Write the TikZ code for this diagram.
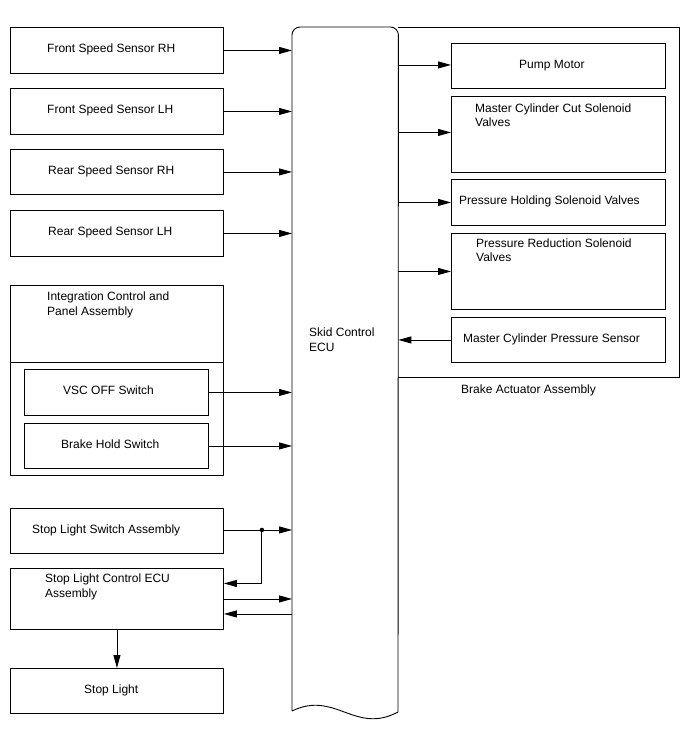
\documentclass[tikz,border=0pt]{standalone}
\usepackage{fontspec}
\setmainfont{Liberation Sans}
\usetikzlibrary{arrows.meta,calc}
\tikzset{
 wire/.style={line width=.9pt},
 arrowwire/.style={wire,-{Triangle[length=13pt,width=7pt]}},
 unit/.style={draw,line width=.9pt,anchor=north west,inner sep=0,minimum width=213pt,minimum height=46pt},
 outunit/.style={unit,minimum width=214pt},
 caption/.style={inner sep=0,align=left,font=\fontsize{12}{14.5}\selectfont},
 tag/.style={caption,anchor=west,text height=8.6pt,text depth=0pt,yshift=2pt},
 blocktag/.style={caption,anchor=north west},
 joint/.style={circle,fill,inner sep=0,minimum size=4.5pt}
}
\begin{document}
\begin{tikzpicture}[x=1pt,y=-1pt]
\path[use as bounding box] (0,0) rectangle (688,755);
\node[inner sep=0,minimum width=106pt,minimum height=685pt,anchor=north west,
 label={[blocktag,xshift=17pt,yshift=-300.6pt]north west:{Skid Control\\ECU}}] (ecu) at (292,27) {};
\draw[wire,rounded corners=8pt] (292,711) -- (ecu.north west) -- (ecu.north east) [sharp corners] -- (398,712)
 .. controls (355,735) and (335,690) .. (292,711);
\node[inner sep=0,minimum width=281pt,minimum height=350pt,anchor=north west,
 label={[tag,xshift=63pt,yshift=-14pt]south west:Brake Actuator Assembly}] (bact) at (398,27) {};
\draw[wire] (bact.north west) -- (bact.north east) -- (bact.south east) -- (bact.south west);
\node[unit,label={[tag,xshift=37pt]west:Front Speed Sensor RH}] (fsrh) at (10,27) {};
\node[unit,label={[tag,xshift=37pt]west:Front Speed Sensor LH}] (fslh) at (10,88) {};
\node[unit,minimum height=45pt,label={[tag,xshift=38pt]west:Rear Speed Sensor RH}] (rsrh) at (10,149) {};
\node[unit,label={[tag,xshift=38pt]west:Rear Speed Sensor LH}] (rslh) at (10,210) {};
\node[unit,minimum height=190pt,label={[blocktag,xshift=37pt,yshift=-7pt]north west:{Integration Control and\\Panel Assembly}}] (icpa) at (10,285) {};
\draw[wire] ($(icpa.north west)+(0,77)$) -- ($(icpa.north east)+(0,77)$);
\node[unit,minimum width=184pt,label={[tag,xshift=39pt]west:VSC OFF Switch}] (vsc) at (24,369) {};
\node[unit,minimum width=184pt,minimum height=45pt,label={[tag,xshift=37pt]west:Brake Hold Switch}] (bhs) at (24,423) {};
\node[unit,minimum height=45pt,label={[tag,xshift=22pt]west:Stop Light Switch Assembly}] (slsw) at (10,508) {};
\node[unit,minimum height=61pt,label={[blocktag,xshift=35pt,yshift=-5.6pt]north west:{Stop Light Control ECU\\Assembly}}] (slecu) at (10,568) {};
\node[unit,minimum height=45pt,label={[tag,xshift=74pt]west:Stop Light}] (stop) at (10,668) {};
\node[outunit,minimum height=45pt,label={[tag,xshift=68pt]west:Pump Motor}] (pump) at (451,43) {};
\node[outunit,minimum height=76pt,label={[blocktag,xshift=24pt,yshift=-7.6pt]north west:{Master Cylinder Cut Solenoid\\Valves}}] (mccut) at (451,96) {};
\node[outunit,label={[tag,xshift=8pt]west:Pressure Holding Solenoid Valves}] (phold) at (451,179) {};
\node[outunit,minimum height=76pt,label={[blocktag,xshift=25pt,yshift=-5.6pt]north west:{Pressure Reduction Solenoid\\Valves}}] (pred) at (451,233) {};
\node[outunit,minimum height=45pt,label={[tag,xshift=12pt]west:Master Cylinder Pressure Sensor}] (mcps) at (451,317) {};
\draw[arrowwire] (fsrh.east) -- (fsrh.east -| ecu.west);
\draw[arrowwire] (fslh.east) -- (fslh.east -| ecu.west);
\draw[arrowwire] (rsrh.east) -- (rsrh.east -| ecu.west);
\draw[arrowwire] (rslh.east) -- (rslh.east -| ecu.west);
\draw[arrowwire] (vsc.east) -- (vsc.east -| ecu.west);
\draw[arrowwire] (bhs.east) -- (bhs.east -| ecu.west);
\draw[arrowwire] ([yshift=1pt]slsw.east) -- ([yshift=1pt]slsw.east -| ecu.west);
\node[joint] (jn) at ([xshift=38pt,yshift=1pt]slsw.east) {};
\draw[arrowwire] (jn.center) |- ([yshift=15.5pt]slecu.east);
\draw[arrowwire] (slecu.east) -- (slecu.east -| ecu.west);
\draw[arrowwire] ([yshift=-15pt]slecu.east -| ecu.west) -- ([yshift=-15pt]slecu.east);
\draw[arrowwire] (slecu.south) -- (stop.north);
\draw[arrowwire] ([yshift=1pt]pump.west -| ecu.east) -- ([yshift=1pt]pump.west);
\draw[arrowwire] ([yshift=2pt]mccut.west -| ecu.east) -- ([yshift=2pt]mccut.west);
\draw[arrowwire] (phold.west -| ecu.east) -- (phold.west);
\draw[arrowwire] (pred.west -| ecu.east) -- (pred.west);
\draw[arrowwire] (mcps.west) -- (mcps.west -| ecu.east);
\end{tikzpicture}
\end{document}
